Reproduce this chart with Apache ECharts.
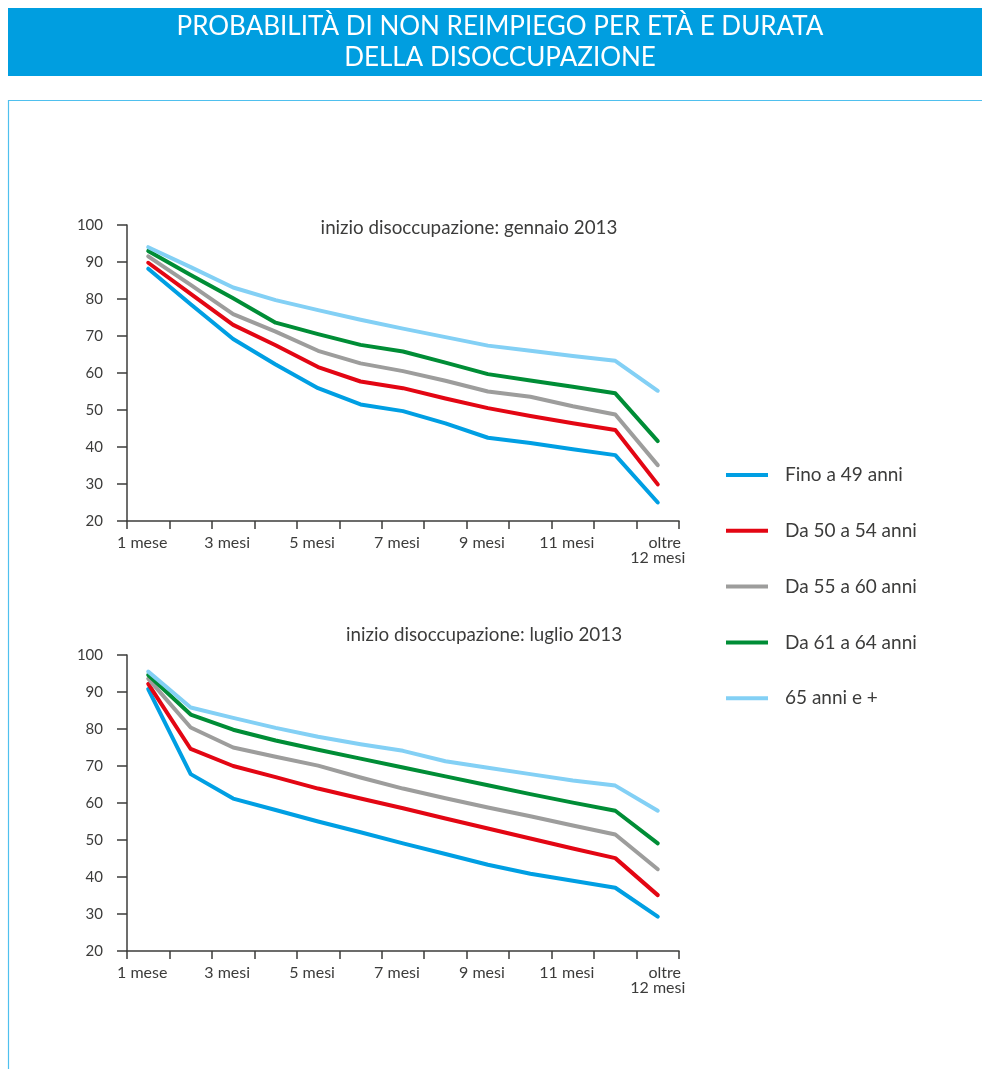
<!DOCTYPE html>
<html>
<head>
<meta charset="utf-8">
<script src="https://cdn.jsdelivr.net/npm/echarts@6/dist/echarts.min.js"></script>
<style>
html,body{margin:0;padding:0;background:#fff;}
#chart{width:982px;height:1069px;}
</style>
</head>
<body>
<div id="chart"></div>
<script>
var titleLines = ['PROBABILITÀ DI NON REIMPIEGO PER ETÀ E DURATA', 'DELLA DISOCCUPAZIONE'];
var subtitles = ['inizio disoccupazione: gennaio 2013', 'inizio disoccupazione: luglio 2013'];
var categories = ['1','2','3','4','5','6','7','8','9','10','11','12','13'];
var xLabels = ['1 mese','','3 mesi','','5 mesi','','7 mesi','','9 mesi','','11 mesi','','oltre\n12 mesi'];
var seriesNames = ['Fino a 49 anni','Da 50 a 54 anni','Da 55 a 60 anni','Da 61 a 64 anni','65 anni e +'];
var seriesColors = ['#009FE3','#E30613','#9D9D9C','#008D36','#83D0F5'];

// gennaio 2013
var jan_fino49 = [88.2, 78.6, 69.2, 62.3, 55.9, 51.5, 49.7, 46.4, 42.5, 41.1, 39.4, 37.8, 25.0];
var jan_50_54  = [89.8, 81.4, 73.0, 67.5, 61.6, 57.7, 55.9, 53.1, 50.5, 48.4, 46.4, 44.6, 29.9];
var jan_55_60  = [91.5, 83.8, 75.9, 71.2, 66.0, 62.6, 60.5, 57.9, 55.0, 53.6, 51.0, 48.8, 35.1];
var jan_61_64  = [93.0, 86.5, 80.2, 73.6, 70.5, 67.6, 65.8, 62.8, 59.7, 58.0, 56.3, 54.5, 41.6];
var jan_65     = [94.0, 88.6, 83.1, 79.7, 77.0, 74.4, 72.0, 69.7, 67.4, 66.0, 64.6, 63.3, 55.2];

// luglio 2013
var jul_fino49 = [90.8, 67.8, 61.2, 58.1, 55.0, 52.1, 49.1, 46.2, 43.3, 40.9, 39.0, 37.1, 29.3];
var jul_50_54  = [92.2, 74.6, 70.0, 67.0, 63.9, 61.2, 58.6, 55.8, 53.1, 50.4, 47.7, 45.1, 35.1];
var jul_55_60  = [93.6, 80.4, 75.0, 72.5, 70.1, 66.9, 63.9, 61.3, 58.8, 56.4, 53.9, 51.5, 42.1];
var jul_61_64  = [94.6, 83.9, 79.8, 76.9, 74.4, 72.0, 69.6, 67.2, 64.8, 62.4, 60.1, 57.9, 49.1];
var jul_65     = [95.5, 85.8, 83.0, 80.3, 77.9, 75.9, 74.1, 71.3, 69.5, 67.8, 66.1, 64.7, 57.9];

var yMin = 20, yMax = 100, yInterval = 10;

var janData = [jan_fino49, jan_50_54, jan_55_60, jan_61_64, jan_65];
var julData = [jul_fino49, jul_50_54, jul_55_60, jul_61_64, jul_65];

var FONT = 'Lato, "Open Sans", sans-serif';
var axisColor = '#3c3c3b';
var textColor = '#3c3c3b';

function makeXAxis(idx){
  return {
    type:'category', gridIndex: idx, data: categories, boundaryGap: true,
    axisLine:{show:true, lineStyle:{color:axisColor, width:1.5}},
    axisTick:{show:true, interval:0, length:8, lineStyle:{color:axisColor, width:1.5}},
    axisLabel:{
      interval:0, margin:14, color:textColor, fontFamily:FONT, fontSize:16, lineHeight:15,
      formatter:function(v, i){
        var s = xLabels[i];
        if (i === categories.length - 1) return '{a|oltre}\n{b|12 mesi}';
        return s ? '{n|' + s + '}' : '';
      },
      rich:{
        n:{fontFamily:FONT, fontSize:16, color:textColor, padding:[0,12,0,0]},
        a:{fontFamily:FONT, fontSize:16, color:textColor, padding:[0,0,0,14], lineHeight:15},
        b:{fontFamily:FONT, fontSize:16, color:textColor, lineHeight:15}
      }
    },
    splitLine:{show:false}
  };
}
function makeYAxis(idx){
  return {
    type:'value', gridIndex: idx, min:yMin, max:yMax, interval:yInterval,
    axisLine:{show:true, lineStyle:{color:axisColor, width:1.5}},
    axisTick:{show:true, length:10, lineStyle:{color:axisColor, width:1.5}},
    axisLabel:{margin:24, color:textColor, fontFamily:FONT, fontSize:15},
    splitLine:{show:false}
  };
}

var series = [];
[janData, julData].forEach(function(set, g){
  set.forEach(function(arr, k){
    series.push({
      name: seriesNames[k], type:'line', xAxisIndex:g, yAxisIndex:g,
      data: arr, symbol:'none', smooth:false,
      lineStyle:{color:seriesColors[k], width:4, cap:'round', join:'round'},
      itemStyle:{color:seriesColors[k]},
      z: 2 + k
    });
  });
});

var chart = echarts.init(document.getElementById('chart'), null, {renderer:'canvas'});
chart.setOption({
  animation:false,
  backgroundColor:'#ffffff',
  graphic:[
    {type:'rect', shape:{x:8, y:8, width:974, height:68}, style:{fill:'#009EE0'}, z:0},
    {type:'text', x:500, y:27, style:{text:titleLines[0], fill:'#ffffff', font:'400 26px ' + FONT, textAlign:'center', textVerticalAlign:'middle'}},
    {type:'text', x:500, y:58, style:{text:titleLines[1], fill:'#ffffff', font:'400 26px ' + FONT, textAlign:'center', textVerticalAlign:'middle'}},
    {type:'polyline', shape:{points:[[8.5,1069],[8.5,100.5],[982,100.5]]}, style:{stroke:'#4FC0EE', lineWidth:1.2, fill:null}},
    {type:'text', x:469, y:228, style:{text:subtitles[0], fill:textColor, font:'400 18.8px ' + FONT, textAlign:'center', textVerticalAlign:'middle'}},
    {type:'text', x:484, y:635, style:{text:subtitles[1], fill:textColor, font:'400 18.8px ' + FONT, textAlign:'center', textVerticalAlign:'middle'}}
  ],
  legend:{
    orient:'vertical', left:726, top:465, padding:0,
    itemWidth:42, itemHeight:4, itemGap:35.8, icon:'rect',
    data: seriesNames,
    textStyle:{fontFamily:FONT, fontSize:19, color:textColor, lineHeight:20, padding:[0,0,0,12]}
  },
  grid:[
    {left:127, top:225, width:552, height:296, containLabel:false},
    {left:127, top:655, width:552, height:296, containLabel:false}
  ],
  xAxis:[makeXAxis(0), makeXAxis(1)],
  yAxis:[makeYAxis(0), makeYAxis(1)],
  series: series
});
</script>
</body>
</html>
